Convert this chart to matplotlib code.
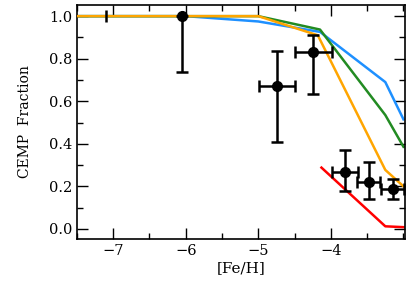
import matplotlib
matplotlib.use("Agg")
import matplotlib.pyplot as plt
from matplotlib.ticker import MultipleLocator, FormatStrFormatter

# observed CEMP fractions
obs_feh = [-4.74, -4.24, -3.81, -3.48, -3.15]
obs_frac = [0.67, 0.83, 0.265, 0.218, 0.188]
obs_up = [0.167, 0.082, 0.108, 0.095, 0.047]
obs_lo = [0.263, 0.195, 0.088, 0.079, 0.049]
obs_xerr = [0.25, 0.26, 0.18, 0.16, 0.16]

# single stars at the lowest metallicity
low_feh = [-6.05]
low_frac = [1.0]
low_lo = [0.263]
lim_feh = [-7.1]
lim_frac = [1.0]

# model curves
blue_x = [-7.5, -6.0, -5.0, -4.15, -3.25, -3.0]
blue_y = [1.0, 1.0, 0.975, 0.926, 0.69, 0.515]
green_x = [-7.5, -6.0, -5.0, -4.15, -3.25, -3.0]
green_y = [1.0, 1.0, 1.0, 0.937, 0.535, 0.386]
orange_x = [-7.5, -6.0, -5.0, -4.18, -3.25, -3.0]
orange_y = [1.0, 1.0, 1.0, 0.91, 0.277, 0.2]
red_x = [-4.13, -3.25, -3.0]
red_y = [0.288, 0.012, 0.008]

xticks = [-7, -6, -5, -4]

plt.rcParams['font.family'] = 'DejaVu Serif'
plt.rcParams['mathtext.fontset'] = 'dejavuserif'

fig = plt.figure(figsize=(4.09, 2.87), dpi=100)
ax = fig.add_axes([0.188, 0.167, 0.802, 0.816])

ax.plot(blue_x, blue_y, color='#1e90ff', lw=1.8, zorder=2)
ax.plot(green_x, green_y, color='#228b22', lw=1.8, zorder=2)
ax.plot(orange_x, orange_y, color='orange', lw=1.8, zorder=3)
ax.plot(red_x, red_y, color='red', lw=1.8, zorder=2)

ax.errorbar(obs_feh, obs_frac, yerr=[obs_lo, obs_up], xerr=obs_xerr,
            fmt='o', color='black', ms=7, elinewidth=1.8, capsize=4,
            capthick=1.8, zorder=4)
ax.errorbar(low_feh, low_frac, yerr=[low_lo, [0]], fmt='o', color='black',
            ms=7, elinewidth=1.8, capsize=4, capthick=1.8, zorder=4)
ax.errorbar(lim_feh, lim_frac, yerr=0.028, fmt='none', ecolor='black',
            elinewidth=1.8, zorder=4)

ax.set_xlim(-7.5, -2.98)
ax.set_ylim(-0.048, 1.053)
ax.set_xticks(xticks)
ax.xaxis.set_minor_locator(MultipleLocator(0.5))
ax.yaxis.set_major_locator(MultipleLocator(0.2))
ax.yaxis.set_minor_locator(MultipleLocator(0.1))
ax.yaxis.set_major_formatter(FormatStrFormatter('%.1f'))
ax.tick_params(which='both', direction='in', top=True, right=True,
               labelsize=10.5, width=1)
ax.tick_params(which='major', length=8)
ax.tick_params(which='minor', length=4)
for s in ax.spines.values():
    s.set_linewidth(1.2)

ax.set_xlabel('[Fe/H]', fontsize=11, labelpad=2)
ax.set_ylabel('CEMP  Fraction', fontsize=10, labelpad=12)

fig.savefig('out.png', dpi=100)
